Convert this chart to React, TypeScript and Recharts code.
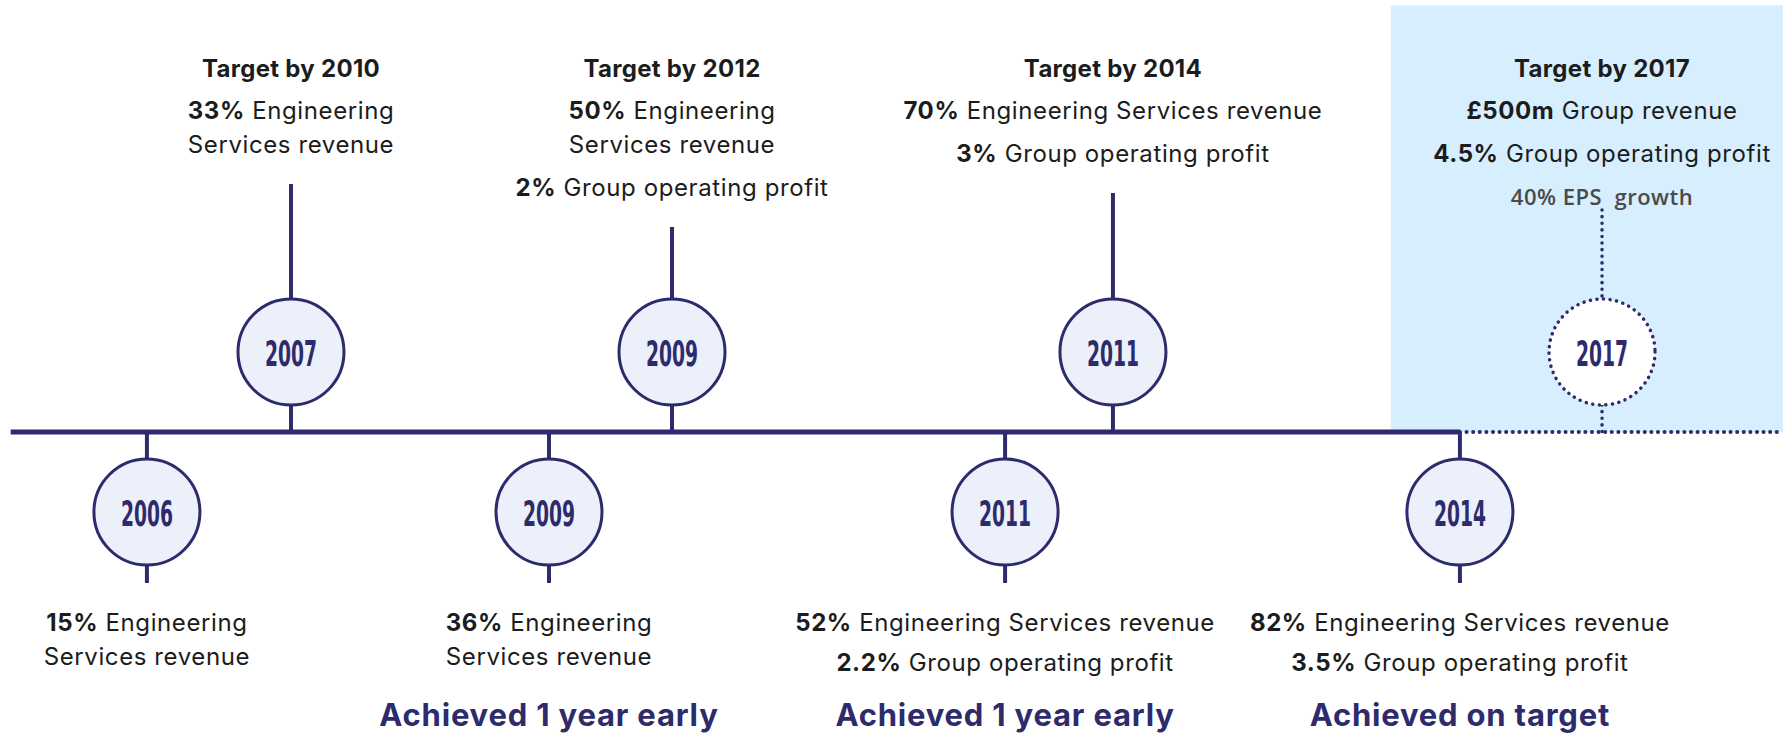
import { ScatterChart, Scatter, XAxis, YAxis, ReferenceLine, ReferenceArea } from 'recharts';

// milestones in the order they sit along the timeline
const years = ['2006', '2007', '2009', '2009', '2011', '2011', '2014', '2017'];
// position along the timeline, 0-100
const positions = [8.24, 16.32, 30.79, 37.69, 56.37, 62.42, 81.88, 89.85];
// 1 = target (above the line), -1 = achieved (below the line)
const levels = [-1, 1, -1, 1, -1, 1, -1, 1];
const headings = ['', 'Target by 2010', '', 'Target by 2012', '', 'Target by 2014', '', 'Target by 2017'];

// paragraphs -> lines -> [bold part, regular part]
const figures: Array<Array<Array<[string, string]>>> = [
  [[['15%', ' Engineering'], ['', 'Services revenue']]],
  [[['33%', ' Engineering'], ['', 'Services revenue']]],
  [[['36%', ' Engineering'], ['', 'Services revenue']]],
  [[['50%', ' Engineering'], ['', 'Services revenue']], [['2%', ' Group operating profit']]],
  [[['52%', ' Engineering Services revenue']], [['2.2%', ' Group operating profit']]],
  [[['70%', ' Engineering Services revenue']], [['3%', ' Group operating profit']]],
  [[['82%', ' Engineering Services revenue']], [['3.5%', ' Group operating profit']]],
  [[['£500m', ' Group revenue']], [['4.5%', ' Group operating profit']]],
];
const notes = ['', '', '', '', '', '', '', '40% EPS  growth'];
const outcomes = ['', '', 'Achieved 1 year early', '', 'Achieved 1 year early', '', 'Achieved on target', ''];
const planned = [false, false, false, false, false, false, false, true];

// where the solid line stops and the future (dotted) part begins
const TODAY = 81.88;
const FUTURE_FROM = 78;

const NAVY = '#2d2b6b';
const INK = '#1c1c1c';
const BODY_FONT = "Inter, 'Noto Sans', sans-serif";
const YEAR_FONT = "'Liberation Sans Narrow', 'DejaVu Sans Condensed', sans-serif";

const W = 1783;
const H = 736;
const Y_DOMAIN: [number, number] = [-3.8, 5.4];
const UNIT = H / (Y_DOMAIN[1] - Y_DOMAIN[0]); // px per level
const R = 53;

const milestones = years.map((year, i) => ({
  year,
  pos: positions[i],
  level: levels[i],
  heading: headings[i],
  figures: figures[i],
  note: notes[i],
  outcome: outcomes[i],
  planned: planned[i],
}));

const dots = { strokeDasharray: '0.1 6.5', strokeLinecap: 'round' as const };

function Milestone(props: any) {
  const { cx, cy, payload } = props;
  const up = payload.level > 0;
  const baseY = cy + payload.level * UNIT;
  const texts: any[] = [];
  let y = up ? cy - 242 : cy + 110;
  let first = true;

  payload.figures.forEach((para: Array<[string, string]>) => {
    para.forEach((line, li) => {
      if (!first) y += li === 0 ? (up ? 43 : 40) : 34;
      first = false;
      texts.push(
        <text key={`f${y}`} x={cx} y={y} textAnchor="middle" dominantBaseline="central"
          fontFamily={BODY_FONT} fontSize={24} letterSpacing={0.6} fill={INK}>
          {line[0] && <tspan fontWeight={700}>{line[0]}</tspan>}
          <tspan style={{ whiteSpace: 'pre' }}>{line[1]}</tspan>
        </text>
      );
    });
  });
  if (payload.note) {
    y += 43;
    texts.push(
      <text key="note" x={cx} y={y} textAnchor="middle" dominantBaseline="central"
        fontFamily="'Open Sans', sans-serif" fontSize={22} fontWeight={600} letterSpacing={0.5} fill="#4a4a4a"
        style={{ whiteSpace: 'pre' }}>
        {payload.note}
      </text>
    );
  }

  const stemStyle = payload.planned
    ? { stroke: NAVY, strokeWidth: 3.5, ...dots }
    : { stroke: NAVY, strokeWidth: 4 };
  const stemTop = up ? y + (payload.planned ? 14 : 40) : 0;

  return (
    <g>
      {up ? (
        <>
          <line x1={cx} x2={cx} y1={stemTop} y2={cy - R} {...stemStyle} />
          <line x1={cx} x2={cx} y1={cy + R} y2={baseY} {...stemStyle} />
        </>
      ) : (
        <>
          <line x1={cx} x2={cx} y1={baseY} y2={cy - R} {...stemStyle} />
          <line x1={cx} x2={cx} y1={cy + R} y2={cy + R + 18} {...stemStyle} />
        </>
      )}
      <circle cx={cx} cy={cy} r={R}
        fill={payload.planned ? '#ffffff' : '#ecf0fb'}
        stroke={NAVY} strokeWidth={payload.planned ? 3.5 : 3}
        {...(payload.planned ? dots : {})} />
      <text x={cx} y={cy + 1} textAnchor="middle" dominantBaseline="central"
        fontFamily={YEAR_FONT} fontSize={36} fontWeight={700} fill={NAVY}
        textLength={52} lengthAdjust="spacingAndGlyphs">
        {payload.year}
      </text>
      {payload.heading && (
        <text x={cx} y={cy - 284} textAnchor="middle" dominantBaseline="central"
          fontFamily={BODY_FONT} fontSize={24} fontWeight={700} letterSpacing={0.3} fill={INK}>
          {payload.heading}
        </text>
      )}
      {texts}
      {payload.outcome && (
        <text x={cx} y={cy + 202} textAnchor="middle" dominantBaseline="central"
          fontFamily={BODY_FONT} fontSize={31} fontWeight={700} letterSpacing={0.8} fill={NAVY}>
          {payload.outcome}
        </text>
      )}
    </g>
  );
}

export default function App() {
  return (
    <div style={{ position: 'absolute', left: 0, top: 0, width: W, height: H, background: '#fff' }}>
      <ScatterChart width={W} height={H} margin={{ top: 0, right: 0, bottom: 0, left: 0 }}>
        <XAxis type="number" dataKey="pos" domain={[0, 100]} hide />
        <YAxis type="number" dataKey="level" domain={Y_DOMAIN} hide />
        <ReferenceArea x1={FUTURE_FROM} x2={100} y1={0} y2={5.33} fill="#d6eefd" fillOpacity={1} stroke="none" />
        <ReferenceLine segment={[{ x: 0.6, y: 0 }, { x: TODAY, y: 0 }]} stroke={NAVY} strokeWidth={5} />
        <ReferenceLine segment={[{ x: TODAY, y: 0 }, { x: 100, y: 0 }]} stroke={NAVY} strokeWidth={4} {...dots} />
        <Scatter data={milestones} shape={Milestone} isAnimationActive={false} />
      </ScatterChart>
    </div>
  );
}
